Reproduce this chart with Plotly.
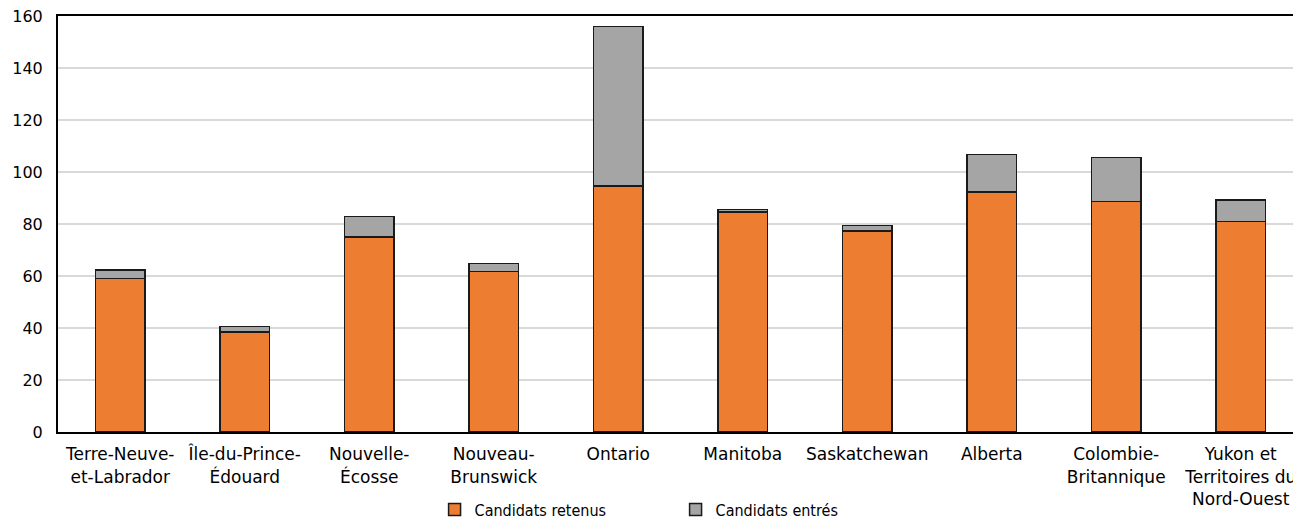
import plotly.graph_objects as go

categories = [
    "Terre-Neuve-<br>et-Labrador",
    "Île-du-Prince-<br>Édouard",
    "Nouvelle-<br>Écosse",
    "Nouveau-<br>Brunswick",
    "Ontario",
    "Manitoba",
    "Saskatchewan",
    "Alberta",
    "Colombie-<br>Britannique",
    "Yukon et<br>Territoires du<br>Nord-Ouest",
]
retenus = [59.1, 38.5, 75.0, 61.7, 94.7, 84.6, 77.4, 92.4, 88.7, 80.9]
entres = [3.3, 2.0, 7.8, 3.2, 61.2, 0.9, 2.1, 14.3, 16.9, 8.3]
y_ticks = [0, 20, 40, 60, 80, 100, 120, 140, 160]

FONT = "DejaVu Sans, Verdana, sans-serif"
x = list(range(len(categories)))

fig = go.Figure()
fig.add_trace(go.Bar(
    x=x, y=retenus, name="Candidats retenus",
    marker=dict(color="#ED7D31", line=dict(color="#1a1a1a", width=1.5)),
    width=0.4,
))
fig.add_trace(go.Bar(
    x=x, y=entres, name="Candidats entrés",
    marker=dict(color="#A5A5A5", line=dict(color="#1a1a1a", width=1.5)),
    width=0.4,
))

fig.update_layout(
    barmode="stack",
    width=1293, height=520,
    margin=dict(l=58, r=0, t=16, b=88),
    plot_bgcolor="white", paper_bgcolor="white",
    font=dict(family=FONT, size=16, color="#000000"),
    showlegend=True,
    legend=dict(
        orientation="h",
        xref="container", x=0.3361, xanchor="left",
        yref="container", y=0.02, yanchor="middle",
        font=dict(family="DejaVu Sans Condensed, DejaVu Sans, sans-serif", size=16),
        itemwidth=30,
        entrywidth=196, entrywidthmode="pixels",
        traceorder="normal",
    ),
)
fig.update_xaxes(
    tickmode="array", tickvals=x, ticktext=categories,
    range=[-0.5, 9.42],
    showline=True, linecolor="#000000", linewidth=2, mirror=True,
    ticks="", showgrid=False, tickfont=dict(size=17),
    ticklabelstandoff=6, ticklabeloverflow="allow", automargin=False,
)
fig.update_yaxes(
    range=[0, 160], tickvals=y_ticks,
    showline=True, linecolor="#000000", linewidth=2,
    showgrid=True, gridcolor="#D9D9D9", gridwidth=1.5,
    ticks="", tickfont=dict(size=16), zeroline=False,
    ticklabelstandoff=10, ticklabeloverflow="allow", automargin=False,
)

fig.write_html(
    "out.html",
    config={"displayModeBar": False},
    post_script="document.body.style.margin='0';document.body.style.overflow='hidden';",
)
